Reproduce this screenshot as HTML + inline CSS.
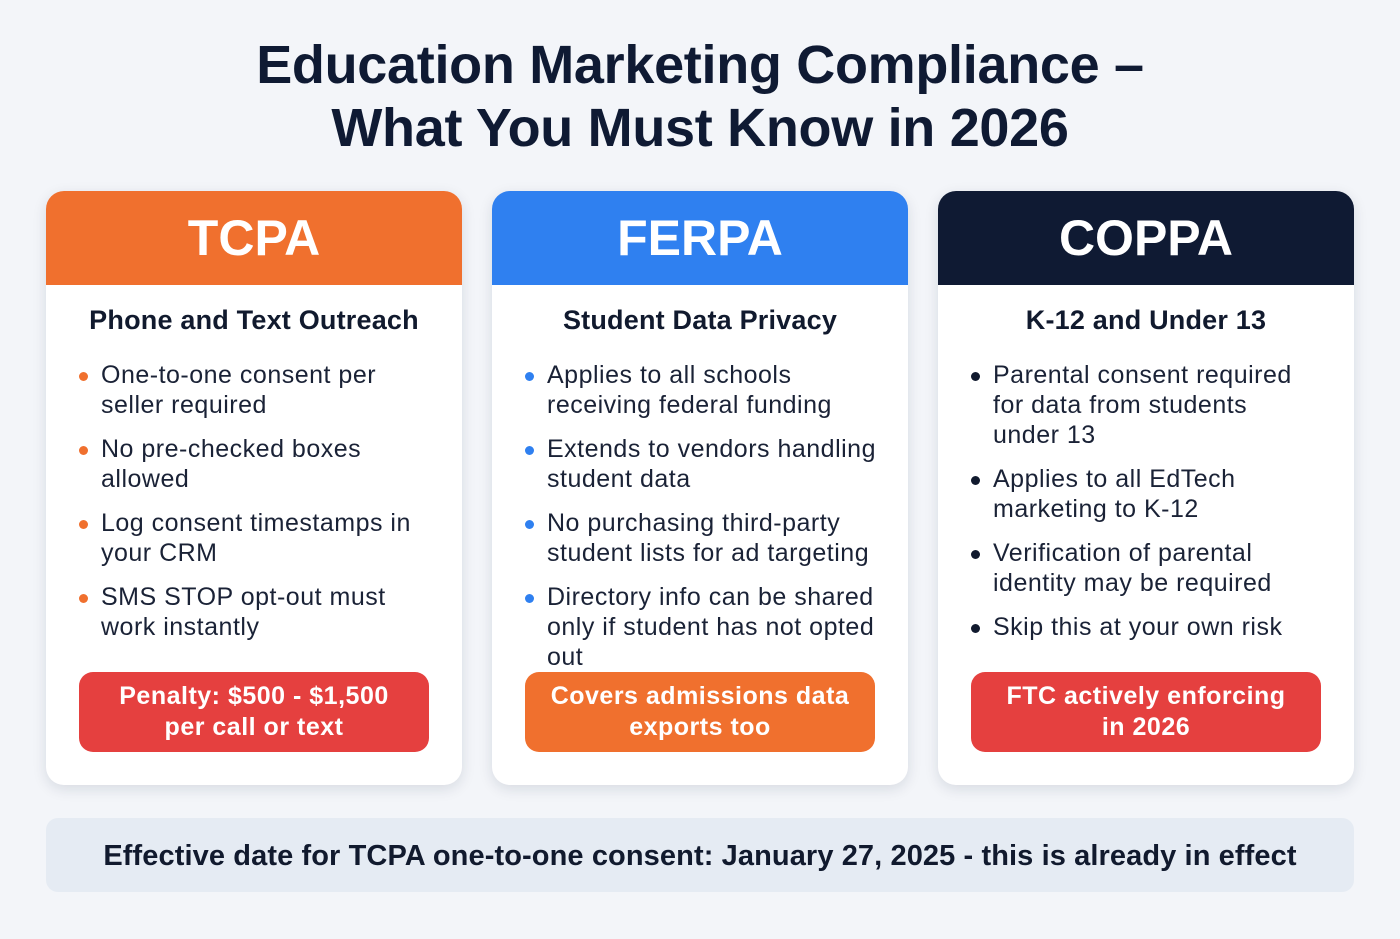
<!DOCTYPE html>
<html><head><meta charset="utf-8"><style>
*{margin:0;padding:0;box-sizing:border-box}
body{width:1400px;height:939px;background:#f3f5f9;font-family:"Liberation Sans",sans-serif;position:relative;overflow:hidden;color:#111a2e}
.title{position:absolute;top:34px;left:0;width:1400px;text-align:center;font-weight:bold;font-size:54px;line-height:63px;color:#0f1a33;letter-spacing:-0.3px}
.card{position:absolute;top:191px;width:416px;height:594px;background:#fff;border-radius:18px;box-shadow:0 4px 14px rgba(20,30,60,0.12);overflow:hidden}
.head{height:94px;color:#fff;font-weight:bold;font-size:50px;text-align:center;line-height:94px}
.sub{text-align:center;font-weight:bold;font-size:27px;margin-top:20px;height:40px;color:#111a2e;letter-spacing:0.2px}
ul{list-style:none;margin-top:15px;padding-left:55px;padding-right:10px}
li{position:relative;font-size:25px;line-height:30px;margin-bottom:14px;color:#1a2236;letter-spacing:0.5px;white-space:nowrap}
li::before{content:"";position:absolute;left:-22px;top:12px;width:9px;height:9px;border-radius:50%;background:var(--b)}
.btn{position:absolute;left:33px;top:481px;width:350px;height:80px;border-radius:14px;color:#fff;font-weight:bold;font-size:25px;line-height:31px;text-align:center;padding-top:9px;letter-spacing:0.5px}
.footer{position:absolute;left:46px;top:818px;width:1308px;height:74px;background:#e5ebf3;border-radius:12px;text-align:center;line-height:76px;font-weight:bold;font-size:29px;color:#111a2e;letter-spacing:0.1px}
</style></head><body>
<div class="title">Education Marketing Compliance –<br>What You Must Know in 2026</div>

<div class="card" style="left:46px;--b:#f0702e">
<div class="head" style="background:#f0702e">TCPA</div>
<div class="sub">Phone and Text Outreach</div>
<ul>
<li>One-to-one consent per<br>seller required</li>
<li>No pre-checked boxes<br>allowed</li>
<li>Log consent timestamps in<br>your CRM</li>
<li>SMS STOP opt-out must<br>work instantly</li>
</ul>
<div class="btn" style="background:#e5403f">Penalty: $500 - $1,500<br>per call or text</div>
</div>

<div class="card" style="left:492px;--b:#2f80f0">
<div class="head" style="background:#2f80f0">FERPA</div>
<div class="sub">Student Data Privacy</div>
<ul>
<li>Applies to all schools<br>receiving federal funding</li>
<li>Extends to vendors handling<br>student data</li>
<li>No purchasing third-party<br>student lists for ad targeting</li>
<li>Directory info can be shared<br>only if student has not opted<br>out</li>
</ul>
<div class="btn" style="background:#f0702e">Covers admissions data<br>exports too</div>
</div>

<div class="card" style="left:938px;--b:#111a2e">
<div class="head" style="background:#0f1a33">COPPA</div>
<div class="sub">K-12 and Under 13</div>
<ul>
<li>Parental consent required<br>for data from students<br>under 13</li>
<li>Applies to all EdTech<br>marketing to K-12</li>
<li>Verification of parental<br>identity may be required</li>
<li>Skip this at your own risk</li>
</ul>
<div class="btn" style="background:#e5403f">FTC actively enforcing<br>in 2026</div>
</div>

<div class="footer">Effective date for TCPA one-to-one consent: January 27, 2025 - this is already in effect</div>
</body></html>
